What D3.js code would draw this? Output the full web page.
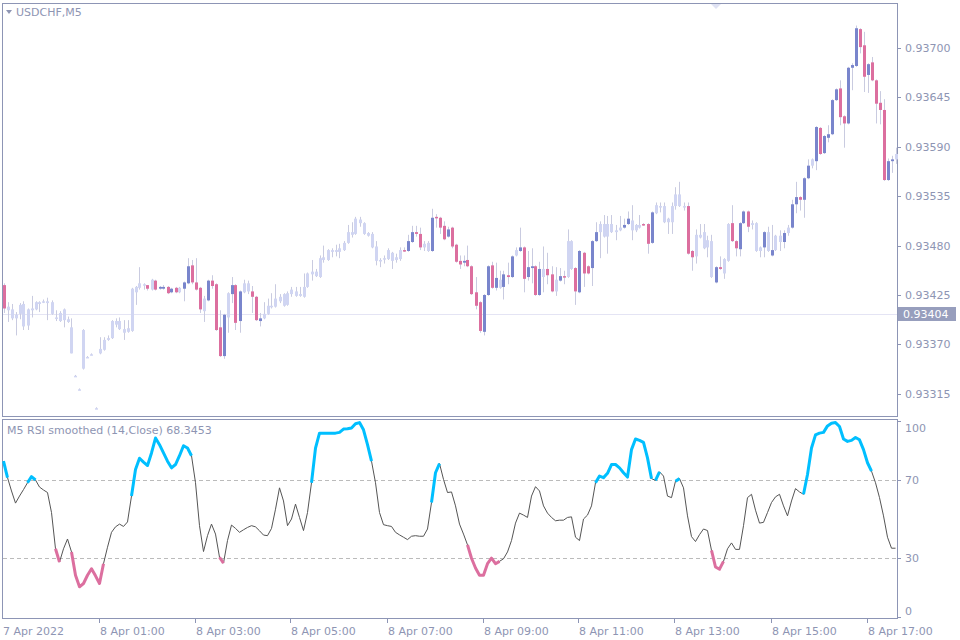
<!DOCTYPE html>
<html><head><meta charset="utf-8">
<script src="https://cdn.jsdelivr.net/npm/d3@7"></script>
<style>body{margin:0;background:#fff}svg{display:block}text{font-family:"DejaVu Sans",sans-serif}</style>
</head><body><svg id="c" width="960" height="640"></svg>
<script>
// Prices are stored in points above 0.93000 (1 point = 0.00001)
const opens=[436,412,409,399,404,415,391,408,409,415,417,418,417,399,396,409,398,389,335,320,343,356,359,299,360,364,375,377,392,396,387,384,385,428,433,437,436,431,441,432,432,434,428,433,428,432,438,458,439,433,407,419,441,437,389,357,400,426,436,396,428,438,429,423,396,399,404,412,412,418,413,414,426,429,424,423,434,448,451,445,464,464,475,473,473,475,483,495,493,509,505,494,493,479,463,465,465,472,464,465,475,474,484,495,493,478,474,474,512,511,502,490,500,481,463,461,464,457,428,417,384,425,458,433,433,434,447,445,469,474,478,445,455,457,425,454,454,448,429,441,446,445,485,455,428,472,457,455,485,495,504,490,504,495,497,500,504,508,497,503,504,504,483,516,524,524,506,506,524,537,524,524,474,468,492,495,478,485,439,456,449,463,505,485,476,505,518,505,505,474,478,495,469,475,491,484,494,500,526,534,531,555,569,574,611,583,600,604,642,655,624,616,678,680,721,703,670,684,664,639,631,553,574,576];
const closes=[410,408,399,403,414,390,409,410,417,417,418,416,404,400,405,397,395,360,335,320,386,356,359,299,365,375,377,396,396,387,383,388,432,434,438,437,432,442,431,434,434,427,432,428,433,439,457,439,431,409,421,441,435,386,357,403,427,436,394,429,438,429,423,397,399,404,413,413,421,423,426,427,431,424,426,434,449,451,446,466,467,475,473,475,477,483,495,492,510,505,493,491,478,463,464,466,475,463,467,475,474,485,495,493,478,482,483,511,511,500,487,498,479,462,459,463,457,426,413,385,425,457,433,444,442,448,445,468,475,478,443,456,457,425,454,445,447,429,442,446,445,485,454,429,474,449,449,485,495,504,490,504,495,497,500,503,510,497,503,500,503,482,517,525,523,506,510,524,537,524,523,471,467,492,489,477,486,445,456,454,465,504,485,477,505,518,501,503,474,478,495,474,475,491,484,494,500,526,534,531,555,569,576,612,582,602,604,642,654,623,616,678,681,722,701,668,682,664,638,631,553,574,576,582];
const highs=[438,417,415,406,416,418,410,424,418,418,420,422,419,408,407,410,401,399,336,321,387,357,360,300,378,378,380,397,399,400,397,397,433,435,456,438,436,443,442,435,436,435,433,434,434,440,466,464,466,434,424,442,447,438,408,404,428,445,437,430,442,441,435,424,405,417,421,427,437,426,427,429,434,434,434,449,450,464,454,469,480,476,477,481,482,485,503,506,512,512,506,495,495,485,466,469,477,473,471,478,478,492,502,502,500,485,485,521,515,512,507,501,501,482,469,469,480,458,445,418,426,458,462,461,452,452,461,469,478,500,479,474,477,458,462,479,472,457,456,455,452,498,486,456,475,473,458,486,506,507,514,513,514,503,513,510,518,525,504,514,505,505,518,528,528,528,511,528,545,551,528,528,475,498,504,504,491,492,457,468,466,505,525,486,506,519,519,508,506,479,496,501,503,492,497,497,503,531,551,535,556,576,577,613,612,603,614,643,655,664,625,679,683,725,722,718,683,690,665,652,643,577,580,589];
const lows=[405,395,397,380,398,386,386,400,408,406,416,397,403,396,395,389,394,360,334,319,342,355,358,298,359,363,374,376,389,386,375,383,384,414,431,431,430,430,430,431,431,426,427,427,427,418,437,437,430,405,395,418,432,385,356,354,383,416,386,383,427,426,405,396,390,398,403,410,411,416,412,413,423,423,423,422,433,441,445,444,461,463,467,468,466,474,482,489,492,501,492,490,477,458,456,460,464,454,461,463,473,473,483,490,475,474,473,473,500,493,486,489,477,461,454,457,456,425,409,383,380,424,432,430,432,420,437,444,468,473,428,441,438,424,424,428,437,428,424,440,437,444,453,414,427,434,448,435,484,466,489,471,494,486,496,499,503,486,495,499,502,471,482,515,517,505,493,493,520,523,519,470,452,460,488,476,467,444,438,453,443,462,484,468,468,504,495,498,473,467,467,473,468,474,474,477,491,499,516,519,511,554,566,564,581,582,595,603,641,614,589,615,653,679,694,651,650,663,616,615,552,552,561,571];
// index ranges of highlighted (coloured) candles; others are drawn pale
const colouredRanges=[[0,0],[36,36],[38,43],[45,49],[51,55],[57,59],[62,64],[100,104],[107,123],[125,127],[129,134],[136,137],[139,140],[143,148],[155,156],[160,162],[171,172],[178,179],[182,186],[190,190],[192,192],[195,195],[197,201],[203,222]];
const rsi=[79.5,71.1,64.3,58.1,61.7,65,68.5,71.6,69.9,66.3,64.8,63.5,53.3,34.8,28,34.8,39.8,33.2,21.3,15.4,17.1,21.3,24.6,21,17.1,27.2,35.6,43.2,46,47.4,46.2,48.5,61.7,75.3,81,79,77.3,83.7,91.3,87.9,83.7,79.5,76.1,77.8,82.3,87.4,86.2,82.3,68.5,46.6,33.4,41.5,47.4,42.3,30.5,27.5,39,46.9,45.2,43.2,44.5,45.7,46.6,46,44,41.8,41.5,45.2,55,65.9,59.2,46.6,50,57.6,50.8,44.1,53.3,68.5,86.2,93.8,93.8,93.8,93.8,93.8,94.2,95.9,96,96.4,98.6,99.2,95.5,87.9,79.5,68.5,53.3,47.1,46.6,46.2,43.2,41.9,40.7,39.5,41.2,41.5,41.2,41.2,44.9,58.4,73.6,78.3,70.2,63.5,63.8,56.7,47.4,42.3,36.8,30,25,21.3,21.3,27.2,30,27.2,28.4,29.7,33.2,39,47.9,53,52,50.8,61.7,66.5,64.3,56.7,53,50.8,49.1,49.4,49.4,50.8,51.1,40.7,39,50,52,56.7,68.5,71.9,71.1,73.3,77.8,77.8,76.1,73.6,71.4,85.4,90.8,90.1,89.1,81.2,70.6,69.7,74.1,71.9,61.7,60.9,69.3,70.6,65.9,51.6,41,38.5,42,44.9,44.1,34,25.5,24.4,28.4,34.8,37.8,34.5,34.5,46.6,60.9,62.6,54.5,47.9,48.3,53.3,58.4,61.3,62.6,56.7,51.6,59.2,65.5,63.8,62.6,72.7,86.2,92.9,93.8,94.2,97.5,98.9,99.2,97.2,90.8,89.6,90.1,91.6,90.4,85.4,78.7,74.4,68.5,60.9,51.6,40.7,35.1,35.1];
const rsiUpRanges=[[0,1],[6,8],[32,47],[77,92],[107,109],[148,162],[163,164],[168,169],[200,217]];
const rsiDownRanges=[[13,14],[17,25],[54,55],[116,124],[177,180]];
const priceTicks=[0.93700,0.93645,0.93590,0.93535,0.93480,0.93425,0.93370,0.93315];
const rsiTicks=[100,70,30,0];
const timeLabels=["7 Apr 2022","8 Apr 01:00","8 Apr 03:00","8 Apr 05:00","8 Apr 07:00","8 Apr 09:00","8 Apr 11:00","8 Apr 13:00","8 Apr 15:00","8 Apr 17:00"];
const timeLabelIdx=[0,24,48,72,96,120,144,168,192,216];
const currentPrice=0.93404;
const symbolTitle="USDCHF,M5";
const rsiTitle="M5 RSI smoothed (14,Close) 68.3453";

const svg=d3.select("#c");
const axisCol="#8d95b5", txtCol="#8e95b3";
const P=v=>0.93+v/1e5;
const N=opens.length;
const x=d3.scaleLinear().domain([0,N-1]).range([3.5,895.5]);
const y=d3.scaleLinear().domain([0.93425,0.93700]).range([295,48]);
const yr=d3.scaleLinear().domain([0,100]).range([617,421]);
const coloured=new Array(N).fill(false);
colouredRanges.forEach(([a,b])=>{for(let i=a;i<=b;i++)coloured[i]=true;});

svg.append("rect").attr("x",2.5).attr("y",3.5).attr("width",895).attr("height",413).attr("fill","none").attr("stroke",axisCol);
svg.append("rect").attr("x",2.5).attr("y",419.5).attr("width",895).attr("height",199).attr("fill","none").attr("stroke",axisCol);

svg.append("line").attr("x1",3).attr("x2",897).attr("y1",Math.round(y(currentPrice))+0.5).attr("y2",Math.round(y(currentPrice))+0.5).attr("stroke","#e4e4f4");

const g=svg.append("g");
d3.range(N).forEach(i=>{
  const cx=Math.round(x(i));
  const o=P(opens[i]),c=P(closes[i]),h=P(highs[i]),l=P(lows[i]);
  g.append("line").attr("x1",cx+0.5).attr("x2",cx+0.5).attr("y1",y(h)).attr("y2",y(l)).attr("stroke","#c9cbe0");
  const fill=coloured[i]?(c>=o?"#7985cc":"#dc6f9f"):"#d0d5f2";
  const top=Math.min(y(o),y(c)),hgt=Math.max(Math.abs(y(o)-y(c)),1.5);
  g.append("rect").attr("x",cx-1).attr("y",top).attr("width",3).attr("height",hgt).attr("fill",fill);
});

priceTicks.forEach(t=>{
  svg.append("line").attr("x1",897).attr("x2",901).attr("y1",Math.round(y(t))+0.5).attr("y2",Math.round(y(t))+0.5).attr("stroke",axisCol);
  svg.append("text").attr("x",905).attr("y",y(t)+4).attr("font-size",11).attr("fill",txtCol).text(t.toFixed(5));
});
const cy=Math.round(y(currentPrice));
svg.append("rect").attr("x",898).attr("y",cy-7).attr("width",58).attr("height",14).attr("fill","#979ebd");
svg.append("text").attr("x",903).attr("y",cy+4).attr("font-size",11).attr("fill","#fff").text(currentPrice.toFixed(5));

svg.append("path").attr("d","M6,10 L12,10 L9,14 Z").attr("fill",txtCol);
svg.append("text").attr("x",16).attr("y",16).attr("font-size",11).attr("fill",txtCol).text(symbolTitle);
svg.append("path").attr("d","M711,4 L721,4 L716,9 Z").attr("fill","#dfe2f3");

[70,30].forEach(v=>svg.append("line").attr("x1",3).attr("x2",897).attr("y1",Math.round(yr(v))+0.5).attr("y2",Math.round(yr(v))+0.5).attr("stroke","#bbb").attr("stroke-dasharray","4,3"));
rsiTicks.forEach(t=>{
  const ty=Math.min(Math.max(yr(t),428),611);
  svg.append("line").attr("x1",897).attr("x2",901).attr("y1",Math.round(yr(t))+0.5).attr("y2",Math.round(yr(t))+0.5).attr("stroke",axisCol);
  svg.append("text").attr("x",905).attr("y",ty+4).attr("font-size",11).attr("fill",txtCol).text(t);
});
const line=d3.line().x(d=>x(d[0])).y(d=>yr(d[1]));
const pts=rsi.map((v,i)=>[i,v]);
svg.append("path").attr("d",line(pts)).attr("fill","none").attr("stroke","#555").attr("stroke-width",1);
const seg=(ranges,col)=>ranges.forEach(([a,b])=>{
  svg.append("path").attr("d",line(pts.slice(a,b+1))).attr("fill","none").attr("stroke",col).attr("stroke-width",3).attr("stroke-linejoin","round");
});
seg(rsiUpRanges,"#00bfff");
seg(rsiDownRanges,"#dc6f9f");
svg.append("text").attr("x",7).attr("y",434).attr("font-size",11).attr("fill",txtCol).text(rsiTitle);

timeLabels.forEach((t,k)=>{
  const tx=k===0?3:Math.round(x(timeLabelIdx[k]))-1;
  if(k>0) svg.append("line").attr("x1",tx+0.5).attr("x2",tx+0.5).attr("y1",619).attr("y2",623).attr("stroke",axisCol);
  svg.append("text").attr("x",k===0?3:tx+1).attr("y",635).attr("font-size",11).attr("fill",txtCol).text(t);
});
</script></body></html>
